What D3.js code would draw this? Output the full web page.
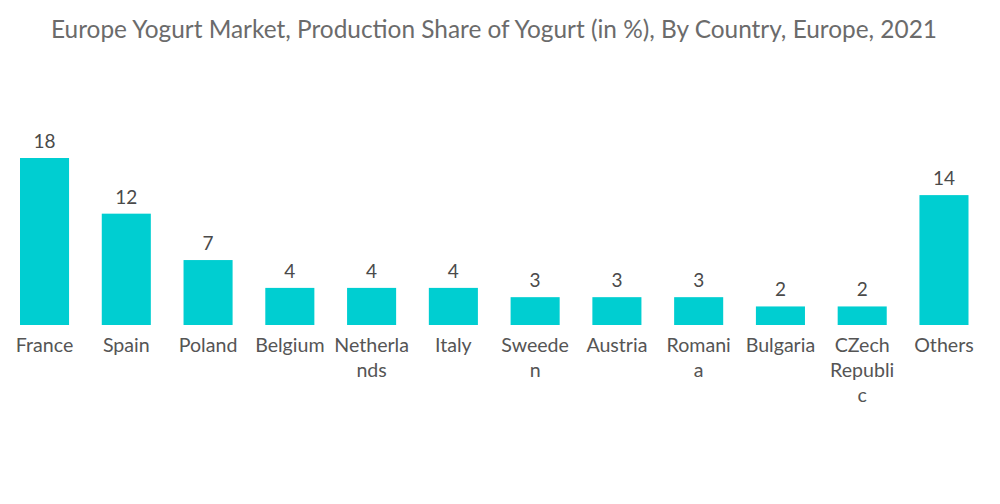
<!DOCTYPE html>
<html><head><meta charset="utf-8">
<script src="https://cdn.jsdelivr.net/npm/d3@7"></script>
<style>body{margin:0;background:#fff}svg{display:block}</style>
</head><body>
<script>
const categories = ["France","Spain","Poland","Belgium","Netherlands","Italy","Sweeden","Austria","Romania","Bulgaria","CZech Republic","Others"];
const tickLabels = [["France"],["Spain"],["Poland"],["Belgium"],["Netherla","nds"],["Italy"],["Sweede","n"],["Austria"],["Romani","a"],["Bulgaria"],["CZech","Republi","c"],["Others"]];
const values = [18,12,7,4,4,4,3,3,3,2,2,14];
const title = "Europe Yogurt Market, Production Share of Yogurt (in %), By Country, Europe, 2021";

const W=1000,H=504, base=325, font="Lato, 'Open Sans', sans-serif";
const svg=d3.select("body").append("svg").attr("width",W).attr("height",H);
svg.append("text").attr("x",494).attr("y",38).attr("text-anchor","middle")
  .attr("font-family",font).attr("font-size",24.4).attr("fill","#6b6b6b").text(title);

const x=d3.scaleBand().domain(categories).range([20,968.5]).paddingInner(0.4).paddingOuter(0);
const y=d3.scaleLinear().domain([0,18]).range([base,158]);

svg.selectAll("rect.bar").data(values).join("rect").attr("class","bar")
  .attr("x",(d,i)=>x(categories[i])).attr("width",x.bandwidth())
  .attr("y",d=>y(d)).attr("height",d=>base-y(d)).attr("fill","#00ced1");

svg.selectAll("text.val").data(values).join("text").attr("class","val")
  .attr("x",(d,i)=>x(categories[i])+x.bandwidth()/2).attr("y",d=>y(d)-10)
  .attr("text-anchor","middle").attr("font-family",font).attr("font-size",19).attr("fill","#4a4a4a").text(d=>d);

const ax=svg.append("g").attr("transform",`translate(0,${base})`).call(d3.axisBottom(x).tickSize(0).tickFormat(""));
ax.select(".domain").remove();
ax.selectAll(".tick").each(function(d,i){
  const t=d3.select(this).append("text").attr("fill","#555").attr("font-family",font).attr("font-size",19.6)
    .attr("text-anchor","middle").attr("y",27);
  tickLabels[i].forEach((l,j)=>t.append("tspan").attr("x",0).attr("dy",j?25:0).text(l));
});
</script>
</body></html>
